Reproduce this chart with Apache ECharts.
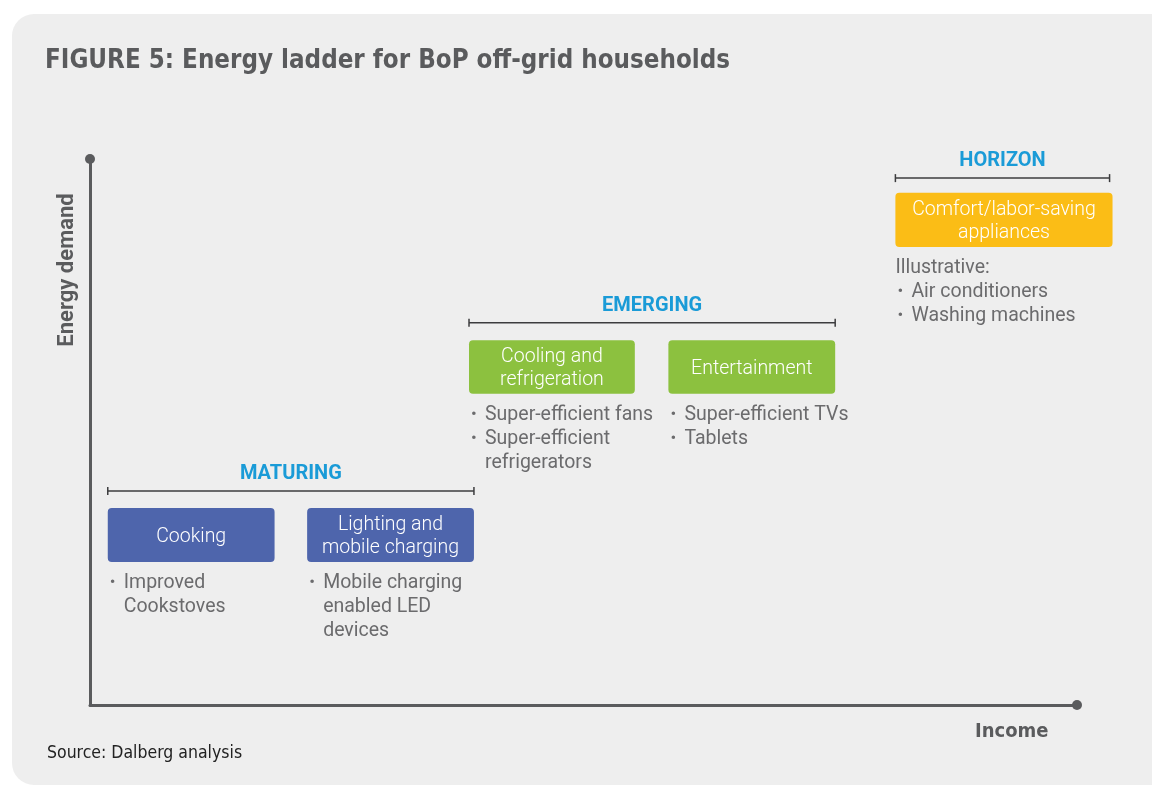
<!DOCTYPE html>
<html>
<head>
    <meta charset="utf-8">
    <title>Energy ladder</title>
    <script src="https://cdn.jsdelivr.net/npm/echarts@6/dist/echarts.min.js"></script>
    <style>
        html, body { margin: 0; padding: 0; background: #ffffff; }
    </style>
</head>
<body>
<div id="main" style="width: 1152px;height:787px;"></div>
<script type="text/javascript">
    // stages (brackets) - income / energy units on a 0-100 scale
    var stageNames = ['MATURING', 'EMERGING', 'HORIZON'];
    var stageFrom = [1.8, 38.4, 81.6];
    var stageTo = [38.9, 75.5, 103.3];
    var stageLevel = [39.2, 70.0, 96.5];

    // category boxes
    var boxNames = ['Cooking', 'Lighting and\nmobile charging', 'Cooling and\nrefrigeration', 'Entertainment', 'Comfort/labor-saving\nappliances'];
    var boxStage = [0, 0, 1, 1, 2];
    var boxFrom = [1.8, 22.0, 38.4, 58.6, 81.6];
    var boxTo = [18.7, 38.9, 55.2, 75.5, 103.6];
    var boxLow = [26.2, 26.2, 57.0, 57.0, 83.9];
    var boxHigh = [36.1, 36.1, 66.8, 66.8, 93.8];

    // examples under each box
    var boxIntro = ['', '', '', '', 'Illustrative:'];
    var boxItems = [
        [['Improved', 'Cookstoves']],
        [['Mobile charging', 'enabled LED', 'devices']],
        [['Super-efficient fans'], ['Super-efficient', 'refrigerators']],
        [['Super-efficient TVs'], ['Tablets']],
        [['Air conditioners'], ['Washing machines']]
    ];

    var stageColors = ['#4e65ac', '#8cc13f', '#fbbd16'];
    var grey = '#5a5b5d';
    var bodyFont = 'Roboto, sans-serif';

    var chart = echarts.init(document.getElementById('main'));

    var stageData = stageNames.map(function (n, i) {
        return [stageFrom[i], stageTo[i], stageLevel[i], n];
    });
    var boxData = boxNames.map(function (n, i) {
        return [boxFrom[i], boxTo[i], boxLow[i], boxHigh[i], n, boxStage[i], i];
    });

    function renderStage(params, api) {
        var a = api.coord([api.value(0), api.value(2)]);
        var b = api.coord([api.value(1), api.value(2)]);
        var style = { stroke: '#3c3c3e', lineWidth: 1.5 };
        return {
            type: 'group',
            children: [
                { type: 'line', shape: { x1: a[0], y1: a[1], x2: b[0], y2: b[1] }, style: style },
                { type: 'line', shape: { x1: a[0], y1: a[1] - 4, x2: a[0], y2: a[1] + 4 }, style: style },
                { type: 'line', shape: { x1: b[0], y1: b[1] - 4, x2: b[0], y2: b[1] + 4 }, style: style },
                {
                    type: 'text',
                    style: {
                        x: (a[0] + b[0]) / 2, y: a[1] - 17,
                        text: stageNames[params.dataIndex],
                        fill: '#1a9bd7', font: 'bold 20px ' + bodyFont,
                        align: 'center', verticalAlign: 'middle'
                    }
                }
            ]
        };
    }

    function renderBox(params, api) {
        var i = params.dataIndex;
        var tl = api.coord([api.value(0), api.value(3)]);
        var br = api.coord([api.value(1), api.value(2)]);
        var children = [
            {
                type: 'rect',
                shape: { x: tl[0], y: tl[1], width: br[0] - tl[0], height: br[1] - tl[1], r: 4 },
                style: { fill: stageColors[boxStage[i]] }
            },
            {
                type: 'text',
                style: {
                    x: (tl[0] + br[0]) / 2, y: (tl[1] + br[1]) / 2 + 2,
                    text: boxNames[i], fill: '#ffffff',
                    font: '300 19.5px ' + bodyFont, lineHeight: 23,
                    align: 'center', verticalAlign: 'middle'
                }
            }
        ];
        var y = br[1] + 21;
        if (boxIntro[i]) {
            children.push({ type: 'text', style: { x: tl[0], y: y, text: boxIntro[i], fill: '#6b6b6d', font: '19.5px ' + bodyFont, verticalAlign: 'middle' } });
            y += 24;
        }
        boxItems[i].forEach(function (lines) {
            children.push({ type: 'text', style: { x: tl[0] + 2, y: y, text: '•', fill: '#6b6b6d', font: '17px ' + bodyFont, verticalAlign: 'middle' } });
            lines.forEach(function (t) {
                children.push({ type: 'text', style: { x: tl[0] + 16, y: y, text: t, fill: '#6b6b6d', font: '19.5px ' + bodyFont, verticalAlign: 'middle' } });
                y += 24;
            });
        });
        return { type: 'group', children: children };
    }

    var option = {
        animation: false,
        backgroundColor: '#ffffff',
        graphic: [
            { type: 'rect', z: -10, shape: { x: 12, y: 14, width: 1170, height: 771, r: 22 }, style: { fill: '#eeeeee' } },
            { type: 'text', left: 45, top: 48, style: { text: 'FIGURE 5: Energy ladder for BoP off-grid households', fill: grey, font: 'bold 25.7px "DejaVu Sans Condensed", "Liberation Sans Narrow", sans-serif' } },
            { type: 'text', x: 67, y: 270, rotation: Math.PI / 2, style: { text: 'Energy demand', fill: grey, font: 'bold 22px ' + bodyFont, align: 'center', verticalAlign: 'middle' } },
            { type: 'text', left: 975, top: 722, style: { text: 'Income', fill: grey, font: 'bold 20px "DejaVu Sans Condensed", sans-serif' } },
            { type: 'text', left: 47, top: 744, style: { text: 'Source: Dalberg analysis', fill: '#222222', font: '17.5px "DejaVu Sans Condensed", sans-serif' } }
        ],
        grid: { left: 90, top: 159, right: 75, bottom: 82 },
        xAxis: {
            type: 'value', min: 0, max: 100,
            axisLine: { show: true, symbol: ['none', 'circle'], symbolSize: [10, 10], lineStyle: { color: grey, width: 3 } },
            axisTick: { show: false }, axisLabel: { show: false }, splitLine: { show: false }
        },
        yAxis: {
            type: 'value', min: 0, max: 100,
            axisLine: { show: true, symbol: ['none', 'circle'], symbolSize: [10, 10], lineStyle: { color: grey, width: 3 } },
            axisTick: { show: false }, axisLabel: { show: false }, splitLine: { show: false }
        },
        series: [
            { type: 'custom', renderItem: renderStage, data: stageData, clip: false, silent: true },
            { type: 'custom', renderItem: renderBox, data: boxData, clip: false, silent: true }
        ]
    };

    chart.setOption(option);
</script>
</body>
</html>
